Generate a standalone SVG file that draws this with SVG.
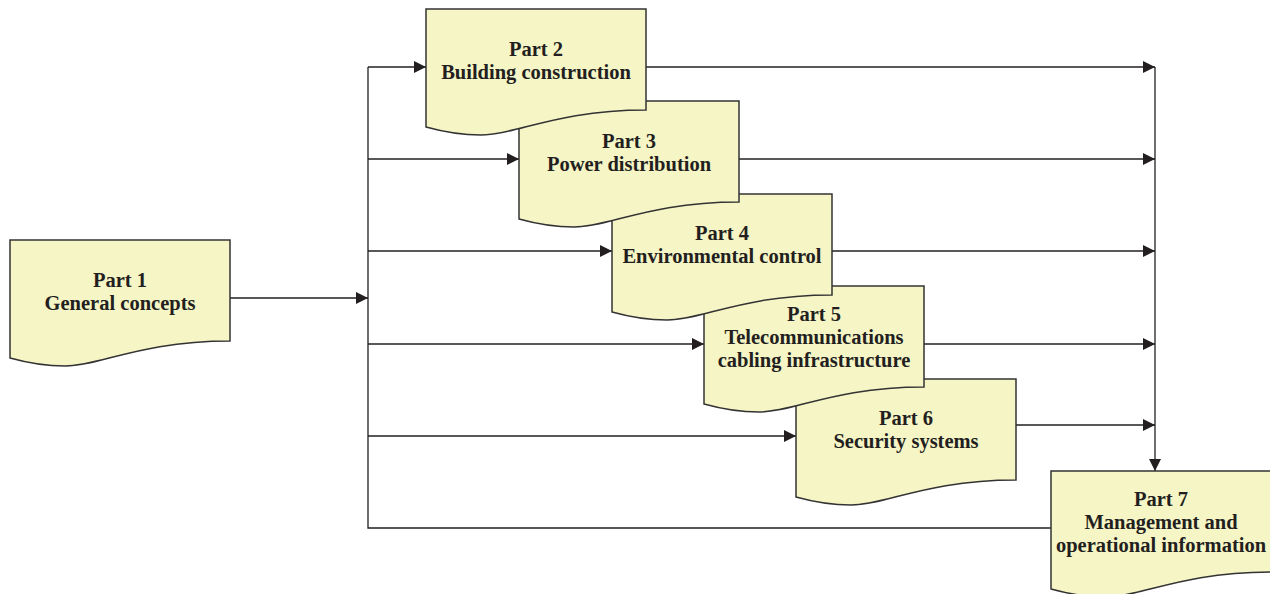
<svg xmlns="http://www.w3.org/2000/svg" xmlns:xlink="http://www.w3.org/1999/xlink" width="1270" height="594" viewBox="0 0 1270 594">
<style>
.doc{fill:#f6f5c6;stroke:#333333;stroke-width:1.5}
.lbl{font-family:"Liberation Serif",serif;font-weight:bold;font-size:20.5px;fill:#231f20;text-anchor:middle}
.ln{fill:none;stroke:#231f20;stroke-width:1.3}
.arr{marker-end:url(#ah)}
</style>
<defs>
<marker id="ah" markerUnits="userSpaceOnUse" markerWidth="12" markerHeight="12" refX="11" refY="5.5" orient="auto" viewBox="0 0 11 11">
<path d="M0,0 L11,5.5 L0,11 z" fill="#231f20"/>
</marker>
<path id="docshape" class="doc" d="M0,0 H220 V101 C130,101 90,126 55,126 C38,126 18,123 0,118 Z"/>
</defs>
<rect width="1270" height="594" fill="#ffffff"/>

<g id="connectors">
<path class="ln arr" d="M230,298 H368"/>
<path class="ln" d="M368,67 V528 H1051"/>
<path class="ln arr" d="M368,67 H426"/>
<path class="ln arr" d="M368,159 H519"/>
<path class="ln arr" d="M368,251 H612"/>
<path class="ln arr" d="M368,344 H704"/>
<path class="ln arr" d="M368,436 H796"/>
<path class="ln arr" d="M646,67 H1155"/>
<path class="ln arr" d="M739,159 H1155"/>
<path class="ln arr" d="M832,251 H1155"/>
<path class="ln arr" d="M924,344 H1155"/>
<path class="ln arr" d="M1016,425 H1155"/>
<path class="ln arr" d="M1155,67 V471"/>
</g>

<g id="part7">
<use xlink:href="#docshape" transform="translate(1051,471)"/>
<text class="lbl" x="1161" y="506">Part 7</text>
<text class="lbl" x="1161" y="529">Management and</text>
<text class="lbl" x="1161" y="552">operational information</text>
</g>

<g id="part6">
<use xlink:href="#docshape" transform="translate(796,379)"/>
<text class="lbl" x="906" y="425">Part 6</text>
<text class="lbl" x="906" y="448">Security systems</text>
</g>

<g id="part5">
<use xlink:href="#docshape" transform="translate(704,286)"/>
<text class="lbl" x="814" y="321">Part 5</text>
<text class="lbl" x="814" y="344">Telecommunications</text>
<text class="lbl" x="814" y="367">cabling infrastructure</text>
</g>

<g id="part4">
<use xlink:href="#docshape" transform="translate(612,194)"/>
<text class="lbl" x="722" y="240">Part 4</text>
<text class="lbl" x="722" y="263">Environmental control</text>
</g>

<g id="part3">
<use xlink:href="#docshape" transform="translate(519,101)"/>
<text class="lbl" x="629" y="148">Part 3</text>
<text class="lbl" x="629" y="171">Power distribution</text>
</g>

<g id="part2">
<use xlink:href="#docshape" transform="translate(426,9)"/>
<text class="lbl" x="536" y="55.5">Part 2</text>
<text class="lbl" x="536" y="78.5">Building construction</text>
</g>

<g id="part1">
<use xlink:href="#docshape" transform="translate(10,240)"/>
<text class="lbl" x="120" y="286.5">Part 1</text>
<text class="lbl" x="120" y="309.5">General concepts</text>
</g>
</svg>
